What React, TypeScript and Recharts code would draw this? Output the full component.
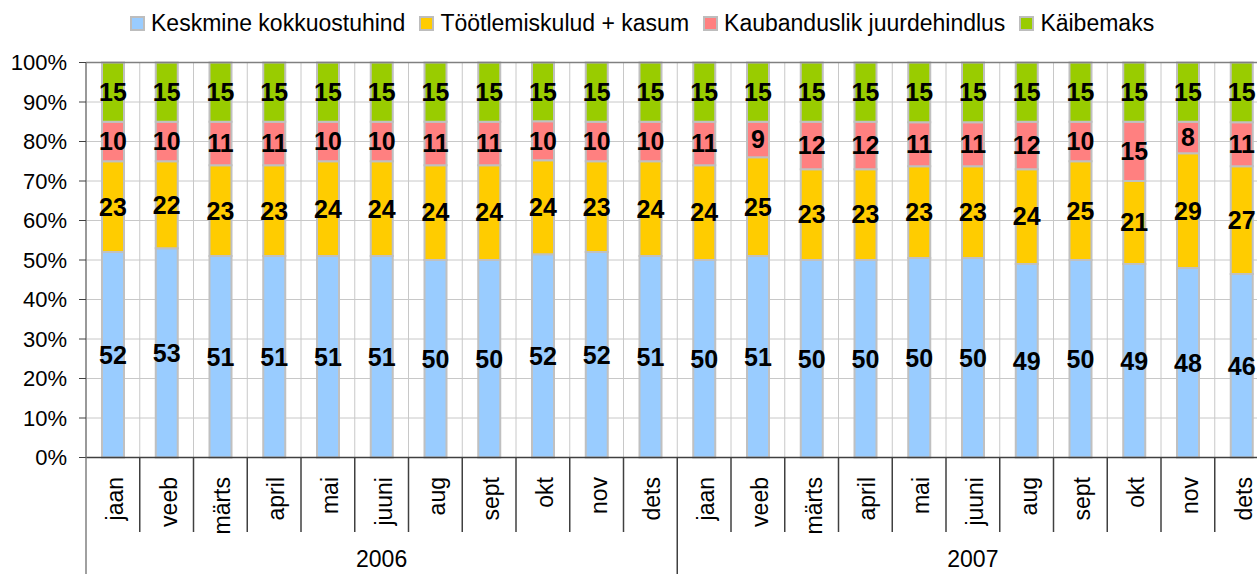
import React from 'react';
import { BarChart, Bar, XAxis, YAxis, CartesianGrid, LabelList, ReferenceLine } from 'recharts';

const CATEGORIES = ['jaan', 'veeb', 'märts', 'april', 'mai', 'juuni', 'aug', 'sept', 'okt', 'nov', 'dets',
  'jaan', 'veeb', 'märts', 'april', 'mai', 'juuni', 'aug', 'sept', 'okt', 'nov', 'dets'];
const YEAR_GROUPS = [
  { label: '2006', count: 11 },
  { label: '2007', count: 11 },
];
const KOKKUOSTUHIND = [52, 53, 51, 51, 51, 51, 50, 50, 52, 52, 51, 50, 51, 50, 50, 50, 50, 49, 50, 49, 48, 46];
const TOOTLEMINE = [23, 22, 23, 23, 24, 24, 24, 24, 24, 23, 24, 24, 25, 23, 23, 23, 23, 24, 25, 21, 29, 27];
const JUURDEHINDLUS = [10, 10, 11, 11, 10, 10, 11, 11, 10, 10, 10, 11, 9, 12, 12, 11, 11, 12, 10, 15, 8, 11];
const KAIBEMAKS = [15, 15, 15, 15, 15, 15, 15, 15, 15, 15, 15, 15, 15, 15, 15, 15, 15, 15, 15, 15, 15, 15];
const Y_TICKS = [0, 0.1, 0.2, 0.3, 0.4, 0.5, 0.6, 0.7, 0.8, 0.9, 1];

const SERIES = [
  { key: 'a', name: 'Keskmine kokkuostuhind', color: '#99CCFF' },
  { key: 'b', name: 'Töötlemiskulud + kasum', color: '#FFCC00' },
  { key: 'c', name: 'Kaubanduslik juurdehindlus', color: '#FF8080' },
  { key: 'd', name: 'Käibemaks', color: '#99CC00' },
];

const FONT = '"Liberation Sans", Arial, sans-serif';

const data = CATEGORIES.map((m, i) => ({
  id: String(i),
  month: m,
  a: KOKKUOSTUHIND[i],
  b: TOOTLEMINE[i],
  c: JUURDEHINDLUS[i],
  d: KAIBEMAKS[i],
}));

// layout constants
const CHART_W = 1280;
const CHART_H = 574;
const MARGIN = { top: 62.5, right: 11.5, left: 0, bottom: 0 };
const Y_AXIS_W = 86;
const X_AXIS_H = CHART_H - MARGIN.top - 395;
const PLOT_W = CHART_W - MARGIN.left - MARGIN.right - Y_AXIS_W;
const BAND = PLOT_W / CATEGORIES.length;

const groupEnds = new Set<number>();
const groupMids = new Map<number, string>();
{
  let start = 0;
  YEAR_GROUPS.forEach((g) => {
    groupEnds.add(start + g.count - 1);
    groupMids.set(start + Math.floor(g.count / 2), g.label);
    start += g.count;
  });
}

const MonthTick = (props: any) => {
  const { x, y, payload } = props;
  const i = payload && typeof payload.index === 'number' ? payload.index : props.index;
  const half = BAND / 2;
  const isEnd = groupEnds.has(i);
  const yearLabel = groupMids.get(i);
  return (
    <g>
      <text
        transform={`translate(${x + 10},${y + 19.5}) rotate(-90)`}
        textAnchor="end"
        fontSize={23}
        fontFamily={FONT}
        fill="#000"
      >
        {CATEGORIES[i]}
      </text>
      <line x1={x + half} x2={x + half} y1={y} y2={isEnd ? y + X_AXIS_H : y + 74.5} stroke="#404040" strokeWidth={1.5} />
      {i === 0 && (
        <line x1={x - half} x2={x - half} y1={y} y2={y + X_AXIS_H} stroke="#808080" strokeWidth={1.5} />
      )}
      {yearLabel && (
        <text x={x} y={y + 109} textAnchor="middle" fontSize={23} fontFamily={FONT} fill="#000">
          {yearLabel}
        </text>
      )}
    </g>
  );
};

const verticalGen = (props: any) => {
  const off = props && props.offset ? props.offset : { left: MARGIN.left + Y_AXIS_W, width: PLOT_W };
  const n = CATEGORIES.length;
  return Array.from({ length: n + 1 }, (_, k) => off.left + (k * off.width) / n);
};

const LegendBar = () => (
  <div
    style={{
      position: 'absolute',
      top: 0,
      left: 130,
      height: 47,
      display: 'flex',
      alignItems: 'center',
      fontFamily: FONT,
      fontSize: 23,
      color: '#000',
      whiteSpace: 'nowrap',
    }}
  >
    {SERIES.map((s, i) => (
      <div key={s.key} style={{ display: 'flex', alignItems: 'center', marginRight: i < SERIES.length - 1 ? 14 : 0 }}>
        <span
          style={{
            display: 'inline-block',
            width: 15,
            height: 15,
            boxSizing: 'border-box',
            border: '2px solid #BDBDBD',
            background: s.color,
            marginRight: 6,
          }}
        />
        <span>{s.name}</span>
      </div>
    ))}
  </div>
);

export default function App() {
  return (
    <div style={{ position: 'absolute', left: 0, top: 0, width: 1257, height: 574, overflow: 'hidden', background: '#fff' }}>
      <LegendBar />
      <BarChart
        width={CHART_W}
        height={CHART_H}
        data={data}
        margin={MARGIN}
        stackOffset="expand"
        barSize={22}
      >
        <CartesianGrid stroke="#C8C8C8" strokeWidth={1} verticalCoordinatesGenerator={verticalGen} />
        <XAxis
          dataKey="id"
          interval={0}
          height={X_AXIS_H}
          tickSize={0}
          tickMargin={0}
          tickLine={false}
          axisLine={{ stroke: '#404040', strokeWidth: 1.5 }}
          tick={<MonthTick />}
        />
        <YAxis
          width={Y_AXIS_W}
          domain={[0, 1]}
          ticks={Y_TICKS}
          interval={0}
          tickSize={7}
          tickMargin={12}
          tickLine={{ stroke: '#404040' }}
          axisLine={{ stroke: '#808080', strokeWidth: 1.5 }}
          tickFormatter={(v: number) => `${Math.round(v * 100)}%`}
          tick={{ fontSize: 22, fill: '#000', fontFamily: FONT }}
        />
        <ReferenceLine y={1} stroke="#808080" strokeWidth={1.5} />
        {SERIES.map((s) => (
          <Bar
            key={s.key}
            dataKey={s.key}
            name={s.name}
            stackId="stack"
            fill={s.color}
            stroke="#C0C0C0"
            strokeWidth={2}
            isAnimationActive={false}
          >
            <LabelList
              dataKey={s.key}
              position="center"
              fill="#000"
              fontSize={25}
              fontWeight="bold"
              fontFamily={FONT}
            />
          </Bar>
        ))}
      </BarChart>
    </div>
  );
}
